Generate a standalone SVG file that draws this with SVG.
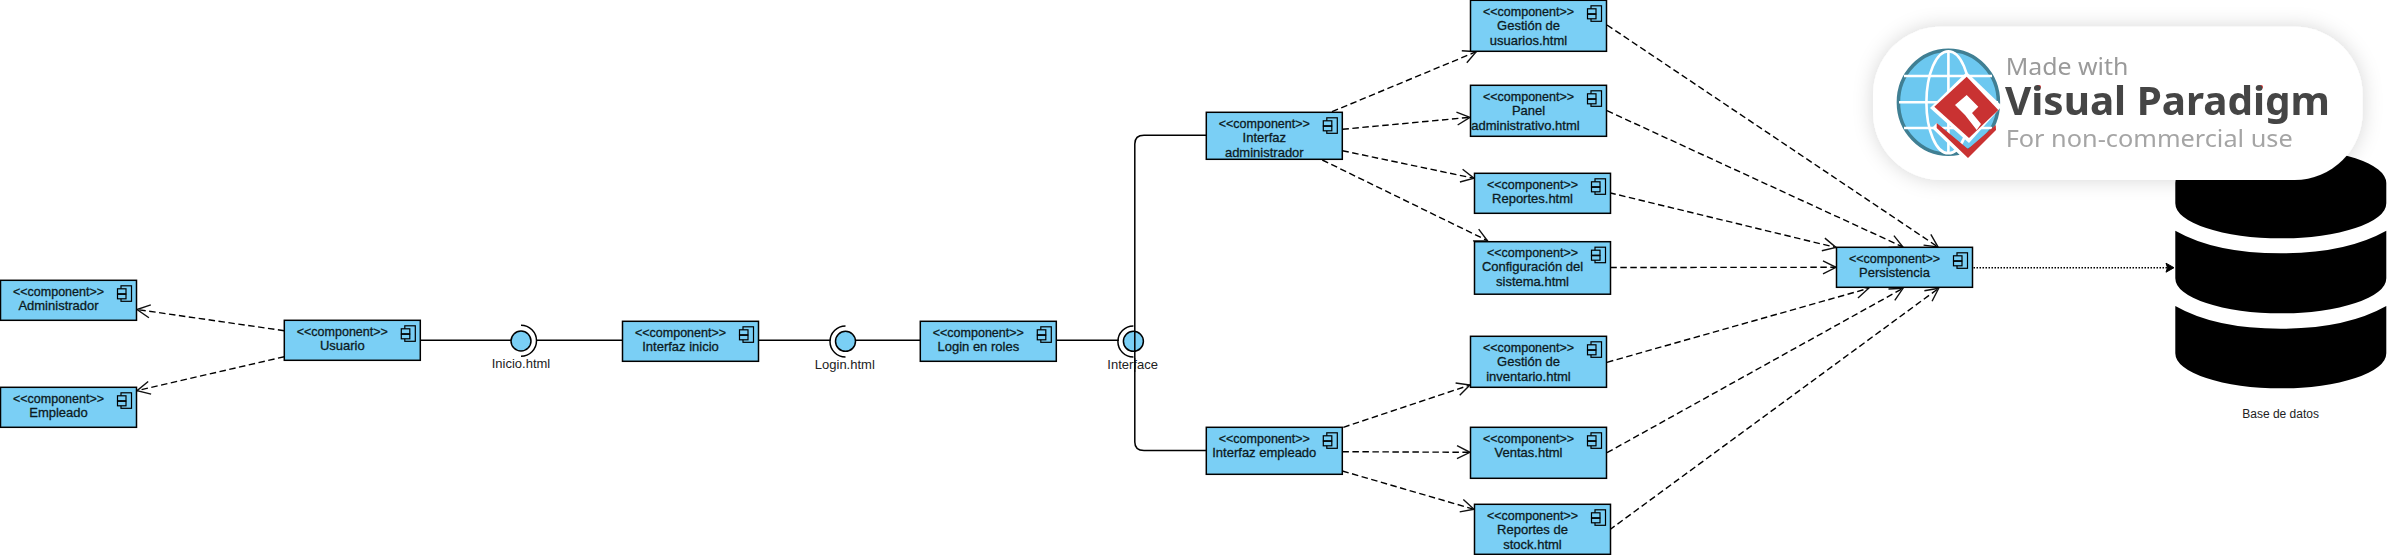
<svg xmlns="http://www.w3.org/2000/svg" width="2387" height="555" viewBox="0 0 2387 555">
<style>
.box{fill:#7acff5;stroke:#000;stroke-width:1.5}
.ic{fill:#7acff5;stroke:#000;stroke-width:1.2}
.t{font-family:"Liberation Sans",Arial,sans-serif;font-size:13px;fill:#0c1a22;text-anchor:middle;stroke:#0c1a22;stroke-width:.3}
.c{font-size:12.5px}
.lb{font-family:"Liberation Sans",Arial,sans-serif;font-size:13px;fill:#222;text-anchor:middle}
.s{fill:none;stroke:#000;stroke-width:1.5}
.d{fill:none;stroke:#000;stroke-width:1.4;stroke-dasharray:6.5 3.5;marker-end:url(#open)}
.o{fill:none;stroke:#000;stroke-width:1.5;stroke-dasharray:1.5 1.5;marker-end:url(#fill)}
.if{fill:#7acff5;stroke:#000;stroke-width:1.5}
.wm{font-family:"Noto Sans","Open Sans",sans-serif}
</style>
<defs>
<marker id="open" markerUnits="userSpaceOnUse" viewBox="-15 -8 17 16" markerWidth="17" markerHeight="16" refX="0" refY="0" orient="auto"><path d="M-13,-6.5 L0,0 L-13,6.5" fill="none" stroke="#111" stroke-width="1.4"/></marker>
<marker id="fill" markerUnits="userSpaceOnUse" viewBox="-10 -6 12 12" markerWidth="12" markerHeight="12" refX="0" refY="0" orient="auto"><path d="M-8,-4.5 L0,0 L-8,4.5 L-6.5,0 Z" fill="#000" stroke="#000"/></marker>
<g id="icon"><rect class="ic" x="-15.5" y="5.5" width="10.5" height="15.5"/><rect class="ic" x="-19" y="8.5" width="8.5" height="5"/><rect class="ic" x="-19" y="14" width="8.5" height="4.5"/></g>
<filter id="sh" x="-15%" y="-30%" width="130%" height="160%"><feDropShadow dx="0" dy="0" stdDeviation="10" flood-color="#000" flood-opacity=".16"/></filter>
<filter id="bl" x="-5%" y="-20%" width="110%" height="140%"><feGaussianBlur stdDeviation=".7"/></filter>
</defs>

<g id="database" fill="#000">
<path d="M2175.3,183 A105.5,35 0 0 1 2386.3,183 V203.3 A105.5,35 0 0 1 2175.3,203.3 Z"/>
<path d="M2175.3,230.7 Q2215,253.3 2280.8,253.3 Q2346,253.3 2386.3,230.7 V278.3 A105.5,35 0 0 1 2175.3,278.3 Z"/>
<path d="M2175.3,306 Q2215,328.7 2280.8,328.7 Q2346,328.7 2386.3,306 V353.3 A105.5,35 0 0 1 2175.3,353.3 Z"/>
<text class="lb" style="font-size:12px" x="2280.6" y="418">Base de datos</text>
</g>

<g id="connectors">
<path class="s" d="M420.3,340.3 H511"/><path class="s" d="M536.8,340.3 H622.5"/>
<path class="s" d="M758.6,340.3 H830.5"/><path class="s" d="M855.5,340.3 H920.3"/>
<path class="s" d="M1056.6,340.3 H1118.8"/>
<path class="s" d="M1206.3,135.3 H1144 Q1134.8,135.3 1134.8,144 V442 Q1134.8,450.5 1144,450.5 H1206.3"/>
<path class="d" d="M284.3,330.7 L137,309.5"/>
<path class="d" d="M284.3,356.7 L137,390.7"/>
<path class="d" d="M1332,111.7 L1476.3,51.7"/>
<path class="d" d="M1342.4,129.3 L1470,117.3"/>
<path class="d" d="M1342.4,150.7 L1474,178.3"/>
<path class="d" d="M1322.3,160 L1487.5,240.7"/>
<path class="d" d="M1343.3,427.3 L1470,385"/>
<path class="d" d="M1342.4,451.7 L1470,452.3"/>
<path class="d" d="M1342.4,471 L1474,509.3"/>
<path class="d" d="M1607,25 L1938,247"/>
<path class="d" d="M1607,110.7 L1903,247"/>
<path class="d" d="M1609.4,192.7 L1836,247.5"/>
<path class="d" d="M1610.3,267.5 L1836,267.3"/>
<path class="d" d="M1607,362.3 L1868.7,288.3"/>
<path class="d" d="M1607,452.7 L1903,288.3"/>
<path class="d" d="M1609.4,530 L1938.7,288.3"/>
<path class="o" d="M1973.5,267.7 L2174,267.7"/>
</g>

<g id="n-administrador" transform="translate(.5,280.3)"><rect class="box" width="136" height="40"/><use href="#icon" x="136"/><text class="t c" x="58" y="15.5">&lt;&lt;component&gt;&gt;</text><text class="t" x="58" y="29.5">Administrador</text></g>
<g id="n-empleado" transform="translate(.5,387.3)"><rect class="box" width="136" height="40"/><use href="#icon" x="136"/><text class="t c" x="58" y="15.5">&lt;&lt;component&gt;&gt;</text><text class="t" x="58" y="29.5">Empleado</text></g>
<g id="n-usuario" transform="translate(284.3,320.3)"><rect class="box" width="136" height="40"/><use href="#icon" x="136"/><text class="t c" x="58" y="15.5">&lt;&lt;component&gt;&gt;</text><text class="t" x="58" y="29.5">Usuario</text></g>
<g id="n-inicio"><circle class="if" cx="521" cy="341" r="10"/><path class="s" d="M521,325.3 A15.5,15.5 0 0 1 521,356.3"/><text class="lb" x="521" y="367.7">Inicio.html</text></g>
<g id="n-interfaz-inicio" transform="translate(622.5,321.3)"><rect class="box" width="136" height="40"/><use href="#icon" x="136"/><text class="t c" x="58" y="15.5">&lt;&lt;component&gt;&gt;</text><text class="t" x="58" y="29.5">Interfaz inicio</text></g>
<g id="n-login"><circle class="if" cx="845.5" cy="341.3" r="10"/><path class="s" d="M845.5,326 A15.5,15.5 0 0 0 845.5,357"/><text class="lb" x="844.8" y="368.7">Login.html</text></g>
<g id="n-login-roles" transform="translate(920.3,321.3)"><rect class="box" width="136" height="40"/><use href="#icon" x="136"/><text class="t c" x="58" y="15.5">&lt;&lt;component&gt;&gt;</text><text class="t" x="58" y="29.5">Login en roles</text></g>
<g id="n-interface"><circle class="if" cx="1133.4" cy="341.3" r="10"/><path class="s" d="M1133.4,326 A15.5,15.5 0 0 0 1133.4,357"/><path class="s" d="M1134.8,331 V352"/><text class="lb" x="1132.6" y="368.7">Interface</text><path class="s" style="stroke-width:1" d="M1134.8,358 V372"/></g>
<g id="n-if-admin" transform="translate(1206.3,112.3)"><rect class="box" width="136" height="47"/><use href="#icon" x="136"/><text class="t c" x="58" y="15.5">&lt;&lt;component&gt;&gt;</text><text class="t" x="58" y="29.5">Interfaz</text><text class="t" x="58" y="44.5">administrador</text></g>
<g id="n-if-empleado" transform="translate(1206.3,427.3)"><rect class="box" width="136" height="47"/><use href="#icon" x="136"/><text class="t c" x="58" y="15.5">&lt;&lt;component&gt;&gt;</text><text class="t" x="58" y="29.5">Interfaz empleado</text></g>
<g id="n-gestion-usuarios" transform="translate(1470.5,.3)"><rect class="box" width="136" height="51"/><use href="#icon" x="136"/><text class="t c" x="58" y="15.5">&lt;&lt;component&gt;&gt;</text><text class="t" x="58" y="29.5">Gestión de</text><text class="t" x="58" y="44.5">usuarios.html</text></g>
<g id="n-panel" transform="translate(1470.5,85.3)"><rect class="box" width="136" height="51"/><use href="#icon" x="136"/><text class="t c" x="58" y="15.5">&lt;&lt;component&gt;&gt;</text><text class="t" x="58" y="29.5">Panel</text><text class="t" x="55" y="44.5">administrativo.html</text></g>
<g id="n-reportes" transform="translate(1474.5,173.3)"><rect class="box" width="136" height="40"/><use href="#icon" x="136"/><text class="t c" x="58" y="15.5">&lt;&lt;component&gt;&gt;</text><text class="t" x="58" y="29.5">Reportes.html</text></g>
<g id="n-config" transform="translate(1474.5,241.7)"><rect class="box" width="136" height="52.5"/><use href="#icon" x="136"/><text class="t c" x="58" y="15.5">&lt;&lt;component&gt;&gt;</text><text class="t" x="58" y="29.5">Configuración del</text><text class="t" x="58" y="44.5">sistema.html</text></g>
<g id="n-gestion-inventario" transform="translate(1470.5,336.3)"><rect class="box" width="136" height="51"/><use href="#icon" x="136"/><text class="t c" x="58" y="15.5">&lt;&lt;component&gt;&gt;</text><text class="t" x="58" y="29.5">Gestión de</text><text class="t" x="58" y="44.5">inventario.html</text></g>
<g id="n-ventas" transform="translate(1470.5,427.3)"><rect class="box" width="136" height="51"/><use href="#icon" x="136"/><text class="t c" x="58" y="15.5">&lt;&lt;component&gt;&gt;</text><text class="t" x="58" y="29.5">Ventas.html</text></g>
<g id="n-stock" transform="translate(1474.5,504.3)"><rect class="box" width="136" height="50"/><use href="#icon" x="136"/><text class="t c" x="58" y="15.5">&lt;&lt;component&gt;&gt;</text><text class="t" x="58" y="29.5">Reportes de</text><text class="t" x="58" y="44.5">stock.html</text></g>
<g id="n-persistencia" transform="translate(1836.5,247.3)"><rect class="box" width="136" height="40"/><use href="#icon" x="136"/><text class="t c" x="58" y="15.5">&lt;&lt;component&gt;&gt;</text><text class="t" x="58" y="29.5">Persistencia</text></g>

<g id="watermark">
<rect x="1873" y="26.7" width="489.6" height="153.3" rx="68" ry="68" fill="#fff" filter="url(#sh)"/>
<g filter="url(#bl)">
<ellipse cx="1948.4" cy="102.3" rx="50" ry="52" fill="#6cc8f0" stroke="#3f7f93" stroke-width="3.5"/>
<g fill="none" stroke="#fff" stroke-width="2.6">
<ellipse cx="1948.4" cy="102.3" rx="22" ry="51"/><path d="M1948.4,51 V154 M1899,102.3 H1998 M1904,76 H1992 M1904,128 H1992"/>
</g>
<path d="M1966.7,72 L2002,106 L1969,143 L1930,108 Z" fill="#fff"/>
<path d="M1936.7,123 L1967.5,153 L1995.7,125 L1998,128 L1968,163 L1932,128 Z" fill="#fff"/>
<path d="M1966.7,76.7 L1998.3,110 L1969,138 L1934.3,106.7 Z" fill="#c93030"/>
<path d="M1936.7,123 L1968,149 L1995.7,125 L1996,130 L1968,158 L1936.7,128 Z" fill="#c93030"/>
<path d="M1966.7,95 L1978.3,106.7 L1972,113 L1981,124 L1976.7,130 L1965,115 L1955,105 Z" fill="#fff"/>
<circle cx="2039" cy="87" r="2" fill="#d33"/><circle cx="2261" cy="87" r="2" fill="#d33"/>
<text class="wm" x="2005.7" y="75" font-size="24" fill="#9a9a9a" textLength="122.7" lengthAdjust="spacingAndGlyphs">Made with</text>
<text class="wm" x="2005" y="115" font-size="40" font-weight="700" fill="#454545" textLength="325" lengthAdjust="spacingAndGlyphs">Visual Paradigm</text>
<text class="wm" x="2005.7" y="147.3" font-size="23" fill="#a5a5a5" textLength="287" lengthAdjust="spacingAndGlyphs">For non-commercial use</text>
</g>
</g>
</svg>
